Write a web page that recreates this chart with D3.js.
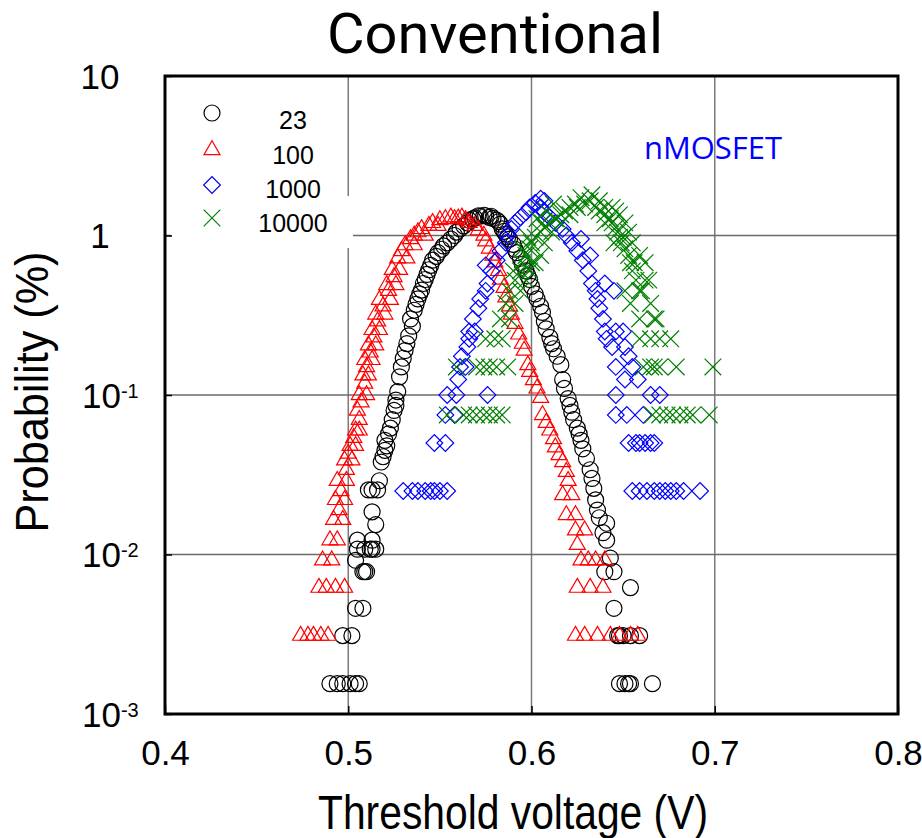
<!DOCTYPE html>
<html>
<head>
<meta charset="utf-8">
<script src="https://cdn.jsdelivr.net/npm/d3@7"></script>
<style>
  body { margin: 0; background: #fff; }
  svg { display: block; }
</style>
</head>
<body>
<div id="chart"></div>
<script>
const width = 922
const height = 838

// axes
const xTicks = [0.4, 0.5, 0.6, 0.7, 0.8]
const yTicks = [1e-3, 1e-2, 1e-1, 1, 10]
const seriesNames = ["23", "100", "1000", "10000"]

// [threshold voltage (V), probability (%)]
const black23 = [
  [0.490,0.00155],[0.494,0.00155],[0.497,0.00155],[0.501,0.00155],[0.504,0.00155],[0.506,0.00155],
  [0.497,0.0031],[0.502,0.0031],[0.504,0.0046],[0.508,0.0046],
  [0.508,0.0078],[0.509,0.0078],[0.510,0.0078],[0.504,0.0092],
  [0.505,0.0108],[0.509,0.0108],[0.512,0.0108],[0.513,0.0108],[0.515,0.0108],
  [0.505,0.0123],[0.513,0.0123],[0.515,0.0154],[0.513,0.0185],
  [0.511,0.0254],[0.513,0.0254],[0.516,0.0254],
  [0.517,0.029],[0.518,0.038],[0.519,0.041],[0.520,0.045],[0.521,0.048],[0.520,0.052],[0.522,0.057],
  [0.523,0.062],[0.524,0.070],[0.525,0.080],[0.526,0.086],[0.526,0.093],[0.527,0.105],[0.528,0.13],
  [0.529,0.15],[0.530,0.17],[0.531,0.19],[0.532,0.21],[0.533,0.235],[0.535,0.27],[0.534,0.30],
  [0.536,0.34],[0.537,0.37],[0.538,0.40],[0.539,0.43],[0.540,0.455],[0.541,0.50],[0.542,0.53],
  [0.543,0.57],[0.544,0.61],[0.545,0.65],[0.546,0.70],[0.548,0.74],[0.549,0.78],[0.551,0.82],
  [0.552,0.86],[0.554,0.90],[0.556,0.95],[0.558,1.0],[0.559,1.05],[0.561,1.1],[0.563,1.15],
  [0.565,1.2],[0.566,1.25],[0.568,1.27],[0.569,1.29],[0.571,1.33],[0.572,1.32],[0.574,1.34],
  [0.575,1.33],[0.577,1.30],[0.578,1.32],[0.579,1.28],[0.581,1.25],[0.582,1.22],[0.583,1.18],
  [0.584,1.10],[0.585,1.06],[0.586,1.02],[0.587,0.98],[0.588,0.95],[0.590,0.88],[0.591,0.82],
  [0.592,0.78],[0.594,0.72],[0.595,0.66],[0.597,0.60],[0.598,0.56],[0.599,0.53],[0.600,0.48],
  [0.602,0.43],[0.603,0.40],[0.605,0.36],[0.606,0.33],[0.607,0.29],[0.608,0.26],[0.610,0.23],
  [0.611,0.21],[0.612,0.195],[0.614,0.175],[0.616,0.155],[0.617,0.125],[0.618,0.11],[0.620,0.095],
  [0.621,0.086],[0.622,0.078],[0.623,0.070],[0.625,0.062],[0.626,0.057],[0.627,0.052],[0.628,0.046],
  [0.630,0.040],[0.632,0.034],[0.633,0.030],[0.634,0.026],[0.635,0.022],[0.636,0.019],[0.637,0.017],
  [0.641,0.0157],[0.639,0.0137],[0.641,0.0123],[0.643,0.0095],[0.640,0.0078],[0.645,0.0078],
  [0.654,0.0062],[0.645,0.0046],
  [0.647,0.0031],[0.648,0.0031],[0.650,0.0031],[0.654,0.0031],[0.659,0.0031],
  [0.648,0.00155],[0.651,0.00155],[0.653,0.00155],[0.654,0.00155],[0.666,0.00155]
]

const red100 = [
  [0.474,0.0031],[0.478,0.0031],[0.481,0.0031],[0.485,0.0031],[0.489,0.0031],
  [0.484,0.0062],[0.488,0.0062],[0.493,0.0062],[0.498,0.0062],
  [0.486,0.0092],[0.491,0.0092],[0.490,0.0123],[0.494,0.0123],
  [0.492,0.0165],[0.497,0.0165],[0.495,0.019],[0.493,0.022],[0.498,0.022],[0.496,0.025],
  [0.494,0.029],[0.499,0.029],[0.499,0.034],[0.498,0.039],[0.502,0.039],[0.500,0.043],
  [0.501,0.048],[0.504,0.048],[0.503,0.054],[0.504,0.060],[0.506,0.060],[0.506,0.07],
  [0.505,0.080],[0.507,0.09],[0.506,0.10],[0.510,0.10],[0.509,0.118],[0.508,0.133],[0.511,0.133],
  [0.510,0.15],[0.509,0.166],[0.513,0.166],[0.512,0.185],[0.511,0.205],[0.515,0.205],[0.514,0.23],
  [0.513,0.256],[0.517,0.256],[0.516,0.29],[0.515,0.32],[0.520,0.32],[0.519,0.36],
  [0.517,0.395],[0.523,0.395],[0.522,0.45],[0.521,0.49],[0.526,0.49],[0.525,0.55],
  [0.524,0.61],[0.528,0.61],[0.527,0.72],[0.532,0.72],[0.529,0.8],[0.531,0.87],[0.536,0.87],
  [0.534,0.95],[0.536,1.0],[0.542,1.0],[0.538,1.05],[0.540,1.1],[0.544,1.15],[0.549,1.15],
  [0.546,1.2],[0.550,1.25],[0.553,1.27],[0.558,1.27],[0.556,1.3],[0.560,1.28],[0.562,1.3],
  [0.564,1.25],[0.566,1.2],[0.569,1.15],[0.571,1.08],[0.574,1.0],[0.575,0.92],[0.577,0.83],
  [0.579,0.75],[0.580,0.68],[0.582,0.6],[0.583,0.53],[0.585,0.47],[0.586,0.41],[0.588,0.36],
  [0.589,0.32],[0.591,0.28],[0.593,0.24],[0.595,0.21],[0.596,0.19],[0.598,0.154],[0.599,0.14],
  [0.601,0.124],[0.603,0.11],[0.605,0.096],[0.606,0.075],[0.608,0.067],[0.610,0.060],
  [0.612,0.053],[0.613,0.047],[0.615,0.042],[0.617,0.038],[0.619,0.033],[0.620,0.029],
  [0.617,0.0236],[0.622,0.0236],[0.619,0.0177],[0.624,0.0177],[0.624,0.0142],[0.629,0.0142],
  [0.625,0.0115],[0.627,0.0092],[0.631,0.0092],[0.635,0.0092],[0.640,0.0092],
  [0.625,0.0062],[0.632,0.0062],[0.639,0.0062],
  [0.624,0.0031],[0.629,0.0031],[0.636,0.0031],[0.643,0.0031],[0.648,0.0031],[0.654,0.0031],[0.658,0.0031]
]

const blue1000 = [
  [0.530,0.025],[0.535,0.025],[0.538,0.025],[0.542,0.025],[0.545,0.025],[0.547,0.025],[0.550,0.025],[0.554,0.025],
  [0.655,0.025],[0.659,0.025],[0.663,0.025],[0.667,0.025],[0.670,0.025],[0.673,0.025],[0.676,0.025],
  [0.679,0.025],[0.683,0.025],[0.692,0.025],
  [0.547,0.05],[0.553,0.05],[0.653,0.05],[0.657,0.05],[0.659,0.05],[0.662,0.05],[0.665,0.05],[0.667,0.05],
  [0.553,0.075],[0.558,0.075],[0.646,0.075],[0.652,0.075],[0.661,0.075],
  [0.554,0.1],[0.559,0.1],[0.576,0.1],[0.646,0.1],[0.665,0.1],[0.670,0.1],
  [0.560,0.125],[0.651,0.125],[0.658,0.125],
  [0.561,0.15],[0.564,0.15],[0.646,0.15],[0.655,0.15],
  [0.562,0.175],[0.653,0.175],
  [0.565,0.2],[0.644,0.2],[0.651,0.2],
  [0.566,0.225],[0.641,0.225],
  [0.566,0.25],[0.569,0.25],[0.640,0.25],[0.646,0.25],[0.650,0.25],
  [0.568,0.3],[0.639,0.3],[0.571,0.35],[0.637,0.35],
  [0.572,0.4],[0.636,0.4],[0.575,0.45],[0.635,0.45],[0.645,0.45],
  [0.576,0.5],[0.633,0.5],[0.640,0.5],
  [0.578,0.6],[0.631,0.6],[0.575,0.65],[0.581,0.7],[0.628,0.7],[0.632,0.75],
  [0.583,0.8],[0.625,0.8],[0.586,0.9],[0.622,0.9],[0.627,0.95],
  [0.587,1.0],[0.619,1.0],[0.589,1.1],[0.617,1.1],[0.591,1.2],[0.613,1.2],
  [0.594,1.3],[0.610,1.3],[0.597,1.4],[0.607,1.4],[0.599,1.5],[0.605,1.5],
  [0.602,1.6],[0.607,1.65],[0.605,1.7]
]

const green10000 = [
  [0.554,0.075],[0.563,0.075],[0.566,0.075],[0.570,0.075],[0.574,0.075],[0.577,0.075],[0.581,0.075],[0.584,0.075],
  [0.666,0.075],[0.670,0.075],[0.674,0.075],[0.677,0.075],[0.681,0.075],[0.685,0.075],[0.688,0.075],[0.697,0.075],
  [0.559,0.15],[0.570,0.15],[0.574,0.15],[0.577,0.15],[0.581,0.15],[0.587,0.15],
  [0.661,0.15],[0.665,0.15],[0.667,0.15],[0.670,0.15],[0.679,0.15],[0.699,0.15],
  [0.575,0.225],[0.580,0.225],[0.584,0.225],[0.659,0.225],[0.665,0.225],[0.670,0.225],[0.676,0.225],
  [0.583,0.3],[0.588,0.3],[0.659,0.3],[0.667,0.3],[0.668,0.3],
  [0.586,0.375],[0.591,0.375],[0.654,0.375],[0.665,0.375],
  [0.588,0.45],[0.594,0.45],[0.651,0.45],[0.659,0.45],[0.660,0.45],
  [0.591,0.525],[0.597,0.525],[0.657,0.525],[0.662,0.525],[0.664,0.525],
  [0.590,0.6],[0.594,0.6],[0.599,0.6],[0.655,0.6],
  [0.595,0.675],[0.600,0.675],[0.602,0.675],[0.654,0.675],[0.656,0.675],[0.662,0.675],
  [0.597,0.75],[0.605,0.75],[0.653,0.75],[0.659,0.75],
  [0.595,0.825],[0.599,0.825],[0.651,0.825],
  [0.600,0.9],[0.607,0.9],[0.645,0.9],[0.649,0.9],[0.655,0.9],
  [0.598,0.975],[0.602,0.975],[0.648,0.975],[0.650,0.975],
  [0.605,1.05],[0.611,1.05],[0.647,1.05],[0.653,1.05],
  [0.607,1.125],[0.646,1.125],
  [0.606,1.2],[0.610,1.2],[0.616,1.2],[0.640,1.2],[0.644,1.2],[0.651,1.2],
  [0.603,1.275],[0.613,1.275],[0.643,1.275],
  [0.616,1.35],[0.621,1.35],[0.640,1.35],[0.648,1.35],
  [0.608,1.425],[0.618,1.425],[0.637,1.425],[0.646,1.425],
  [0.621,1.5],[0.625,1.5],[0.635,1.5],[0.640,1.5],[0.644,1.5],
  [0.612,1.575],[0.624,1.575],[0.629,1.575],[0.632,1.65],[0.637,1.65],[0.627,1.725],[0.633,1.8]
]

const series = [
  { name: seriesNames[0], data: black23, color: "#000000", symbol: d3.symbolCircle, size: 201, rotate: 0 },
  { name: seriesNames[1], data: red100, color: "#ff0000", symbol: d3.symbolTriangle, size: 111, rotate: 0 },
  { name: seriesNames[2], data: blue1000, color: "#0000ff", symbol: d3.symbolSquare, size: 139, rotate: 45 },
  { name: seriesNames[3], data: green10000, color: "#008000", symbol: d3.symbolTimes, size: 182, rotate: 0 }
]

const svg = d3.select("#chart").append("svg")
  .attr("width", width)
  .attr("height", height)
  .style("font-family", "'Liberation Sans', Arial, sans-serif")

const x = d3.scaleLinear().domain([0.4, 0.8]).range([165, 898])
const y = d3.scaleLog().domain([1e-3, 10]).range([714, 76])

// grid
svg.append("g")
  .selectAll("line")
  .data(xTicks.slice(1, -1))
  .join("line")
  .attr("x1", d => x(d)).attr("x2", d => x(d))
  .attr("y1", y(10)).attr("y2", y(1e-3))
  .attr("stroke", "#7a7a7a").attr("stroke-width", 1.5)

svg.append("g")
  .selectAll("line")
  .data(yTicks.slice(1, -1))
  .join("line")
  .attr("x1", x(0.4)).attr("x2", x(0.8))
  .attr("y1", d => y(d)).attr("y2", d => y(d))
  .attr("stroke", "#6a6a6a").attr("stroke-width", 1.3)

// white patch behind the legend's last row
svg.append("rect")
  .attr("x", 171).attr("y", 196)
  .attr("width", 182).attr("height", 52)
  .attr("fill", "#fff")

// markers
series.forEach(s => {
  const sym = d3.symbol().type(s.symbol).size(s.size)
  svg.append("g")
    .selectAll("path")
    .data(s.data)
    .join("path")
    .attr("d", sym)
    .attr("transform", d => `translate(${x(d[0])},${y(d[1])}) rotate(${s.rotate})`)
    .attr("fill", "none")
    .attr("stroke", s.color)
    .attr("stroke-width", 1.2)
})

// axes with inward ticks
const xAxis = svg.append("g")
  .attr("transform", `translate(0,${y(1e-3)})`)
  .call(d3.axisBottom(x).tickValues(xTicks).tickSize(-8).tickPadding(26).tickFormat(d3.format(".1f")))
xAxis.select(".domain").remove()
xAxis.selectAll(".tick line").attr("stroke", "#000").attr("stroke-width", 1.5)
xAxis.selectAll(".tick text")
  .attr("font-size", 35)
  .attr("font-family", "'Liberation Sans', Arial, sans-serif")
  .attr("fill", "#000")

const yAxis = svg.append("g")
  .attr("transform", `translate(${x(0.4)},0)`)
  .call(d3.axisLeft(y).tickValues(yTicks).tickSize(-7).tickFormat(""))
yAxis.select(".domain").remove()
yAxis.selectAll(".tick line").attr("stroke", "#000").attr("stroke-width", 1.5)

// y tick labels, powers of ten with superscripts
const yLab = svg.append("g")
  .attr("font-size", 35)
  .attr("fill", "#000")
  .selectAll("text")
  .data(yTicks)
  .join("text")
  .attr("y", d => y(d) + 12.5)
  .attr("x", d => d >= 1 ? 100 : 82)
  .attr("text-anchor", d => d >= 1 ? "middle" : "start")

yLab.each(function (d) {
  const t = d3.select(this)
  if (d >= 1) {
    t.text(String(d))
  } else {
    t.append("tspan").text("10")
    t.append("tspan")
      .attr("font-size", 20)
      .attr("dy", -10)
      .text(String(Math.round(Math.log10(d))))
  }
})

// frame
svg.append("rect")
  .attr("x", x(0.4)).attr("y", y(10))
  .attr("width", x(0.8) - x(0.4))
  .attr("height", y(1e-3) - y(10))
  .attr("fill", "none")
  .attr("stroke", "#000")
  .attr("stroke-width", 3)

// legend
const legend = svg.append("g")
  .selectAll("g")
  .data(series)
  .join("g")
  .attr("transform", (d, i) => `translate(0,${[113, 150, 185, 218][i]})`)

legend.append("path")
  .attr("d", d => d3.symbol().type(d.symbol).size(d.size)())
  .attr("transform", d => `translate(212,0) rotate(${d.rotate})`)
  .attr("fill", "none")
  .attr("stroke", d => d.color)
  .attr("stroke-width", 1.2)

legend.append("text")
  .attr("x", 293)
  .attr("y", (d, i) => [16, 14, 13, 14][i])
  .attr("text-anchor", "middle")
  .attr("font-size", 25)
  .attr("fill", "#000")
  .text(d => d.name)

// titles
svg.append("text")
  .attr("x", 495).attr("y", 53)
  .attr("text-anchor", "middle")
  .attr("font-family", "Roboto, 'Open Sans', sans-serif")
  .attr("font-size", 56)
  .attr("textLength", 336)
  .attr("lengthAdjust", "spacingAndGlyphs")
  .text("Conventional")

svg.append("text")
  .attr("x", 644).attr("y", 159)
  .attr("font-family", "'Open Sans', sans-serif")
  .attr("font-size", 31)
  .attr("textLength", 138)
  .attr("lengthAdjust", "spacingAndGlyphs")
  .attr("fill", "#0000ff")
  .text("nMOSFET")

svg.append("text")
  .attr("x", 513).attr("y", 829)
  .attr("text-anchor", "middle")
  .attr("font-size", 48)
  .attr("textLength", 390)
  .attr("lengthAdjust", "spacingAndGlyphs")
  .text("Threshold voltage (V)")

svg.append("text")
  .attr("transform", "translate(48,392) rotate(-90)")
  .attr("text-anchor", "middle")
  .attr("font-size", 46)
  .attr("textLength", 281)
  .attr("lengthAdjust", "spacingAndGlyphs")
  .text("Probability (%)")
</script>
</body>
</html>
